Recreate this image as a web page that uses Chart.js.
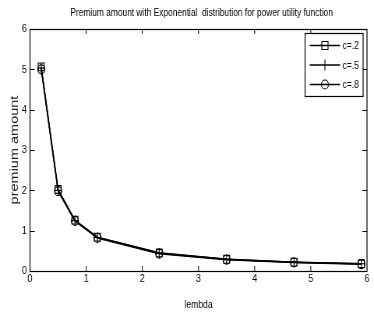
<!DOCTYPE html>
<html>
<head>
<meta charset="utf-8">
<script src="https://cdn.jsdelivr.net/npm/chart.js@4"></script>
<style>
  html, body { margin: 0; padding: 0; background: #fff; overflow: hidden; }
  /* the reference figure is squeezed horizontally, so draw wide and squeeze */
  #premiumChart { display: block; transform: scaleX(0.779167); transform-origin: 0 0; }
</style>
</head>
<body>
<canvas id="premiumChart" width="480" height="318"></canvas>
<script>
const lambdaValues = [0.2, 0.5, 0.8, 1.2, 2.3, 3.5, 4.7, 5.9];
const premiumC2 = [5.06, 2.02, 1.26, 0.84, 0.45, 0.29, 0.22, 0.18];
const premiumC5 = [5.03, 2.0, 1.25, 0.83, 0.44, 0.29, 0.22, 0.18];
const premiumC8 = [5.0, 1.98, 1.24, 0.82, 0.43, 0.28, 0.21, 0.17];
const seriesLabels = ["c=.2", "c=.5", "c=.8"];
const markerStyles = ["rect", "cross", "circle"];
const markerSizes = [5.5, 5, 4.5];
const tickValues = [0, 1, 2, 3, 4, 5, 6];

const FONT = "'Liberation Sans', Arial, sans-serif";

function toPoints(ys) {
    return lambdaValues.map((x, i) => ({ x: x, y: ys[i] }));
}

const datasets = [premiumC2, premiumC5, premiumC8].map((ys, i) => ({
    label: seriesLabels[i],
    data: toPoints(ys),
    borderColor: "#000",
    borderWidth: 1.5,
    pointStyle: markerStyles[i],
    pointRadius: markerSizes[i],
    pointBorderColor: "#000",
    pointBackgroundColor: "rgba(0,0,0,0)",
    pointBorderWidth: 1.1,
    tension: 0,
    fill: false,
}));

// MATLAB style frame, inward ticks, title and legend
const matlabFrame = {
    id: "matlabFrame",
    afterDraw(chart) {
        const ctx = chart.ctx;
        const a = chart.chartArea;
        const xs = chart.scales.x;
        const ys = chart.scales.y;
        ctx.save();
        ctx.strokeStyle = "#000";
        ctx.lineWidth = 1.2;
        ctx.strokeRect(a.left, a.top + 0.5, a.right - a.left, a.bottom - a.top);

        ctx.lineWidth = 1;
        ctx.beginPath();
        tickValues.slice(1, -1).forEach((v) => {
            const px = xs.getPixelForValue(v);
            ctx.moveTo(px, a.bottom);
            ctx.lineTo(px, a.bottom - 5);
            ctx.moveTo(px, a.top);
            ctx.lineTo(px, a.top + 5);
            const py = Math.round(ys.getPixelForValue(v)) + 0.5;
            ctx.moveTo(a.left, py);
            ctx.lineTo(a.left + 6, py);
            ctx.moveTo(a.right, py);
            ctx.lineTo(a.right - 6, py);
        });
        ctx.stroke();

        // title
        ctx.fillStyle = "#000";
        ctx.font = "10.75px " + FONT;
        ctx.textAlign = "center";
        ctx.textBaseline = "middle";
        ctx.fillText("Premium amount with Exponential  distribution for power utility function",
            (a.left + a.right) / 2 + 4, 13);

        // legend
        const lx = 391.5, ly = 33, lw = 74.5, lh = 63;
        ctx.fillStyle = "#fff";
        ctx.fillRect(lx, ly, lw, lh);
        ctx.lineWidth = 1.2;
        ctx.strokeRect(lx, ly + 0.5, lw, lh);
        ctx.font = "11px " + FONT;
        ctx.textAlign = "left";
        seriesLabels.forEach((label, i) => {
            const y = ly + 12.5 + i * 19.5;
            ctx.beginPath();
            ctx.moveTo(lx + 6, y);
            ctx.lineTo(lx + 45, y);
            ctx.lineWidth = 1.5;
            ctx.stroke();
            ctx.lineWidth = 1.1;
            const cx = lx + 25.5;
            ctx.beginPath();
            if (markerStyles[i] === "rect") {
                ctx.rect(cx - 4, y - 4, 8, 8);
            } else if (markerStyles[i] === "cross") {
                ctx.moveTo(cx, y - 5.5);
                ctx.lineTo(cx, y + 5.5);
            } else {
                ctx.arc(cx, y, 4.5, 0, Math.PI * 2);
            }
            ctx.stroke();
            ctx.fillStyle = "#000";
            ctx.fillText(label, lx + 48, y + 0.5);
        });
        ctx.restore();
    },
};

document.addEventListener("DOMContentLoaded", function () {
    const ctx = document.getElementById("premiumChart").getContext("2d");
    new Chart(ctx, {
        type: "line",
        data: { datasets: datasets },
        options: {
            responsive: false,
            animation: false,
            layout: { padding: { left: 0, right: 9, top: 29, bottom: 0 } },
            scales: {
                x: {
                    type: "linear",
                    min: 0,
                    max: 6,
                    afterFit: (scale) => { scale.height = 47; },
                    afterBuildTicks: (scale) => { scale.ticks = tickValues.map((v) => ({ value: v })); },
                    grid: { display: false, drawTicks: false },
                    border: { display: false },
                    ticks: { color: "#000", padding: 1, font: { family: FONT, size: 11.5 } },
                    title: {
                        display: true,
                        text: "lembda",
                        color: "#000",
                        padding: { top: 0, bottom: 6 },
                        font: { family: FONT, size: 11 },
                    },
                },
                y: {
                    type: "linear",
                    min: 0,
                    max: 6,
                    afterFit: (scale) => { scale.width = 38.5; },
                    afterBuildTicks: (scale) => { scale.ticks = tickValues.map((v) => ({ value: v })); },
                    grid: { display: false, drawTicks: false },
                    border: { display: false },
                    ticks: { color: "#000", padding: 4, font: { family: FONT, size: 11.5 } },
                    title: {
                        display: true,
                        text: "premium amount",
                        color: "#222",
                        padding: { top: 10, bottom: 0 },
                        font: { family: FONT, size: 14.5 },
                    },
                },
            },
            plugins: {
                legend: { display: false },
                tooltip: { enabled: false },
            },
        },
        plugins: [matlabFrame],
    });
});
</script>
</body>
</html>
